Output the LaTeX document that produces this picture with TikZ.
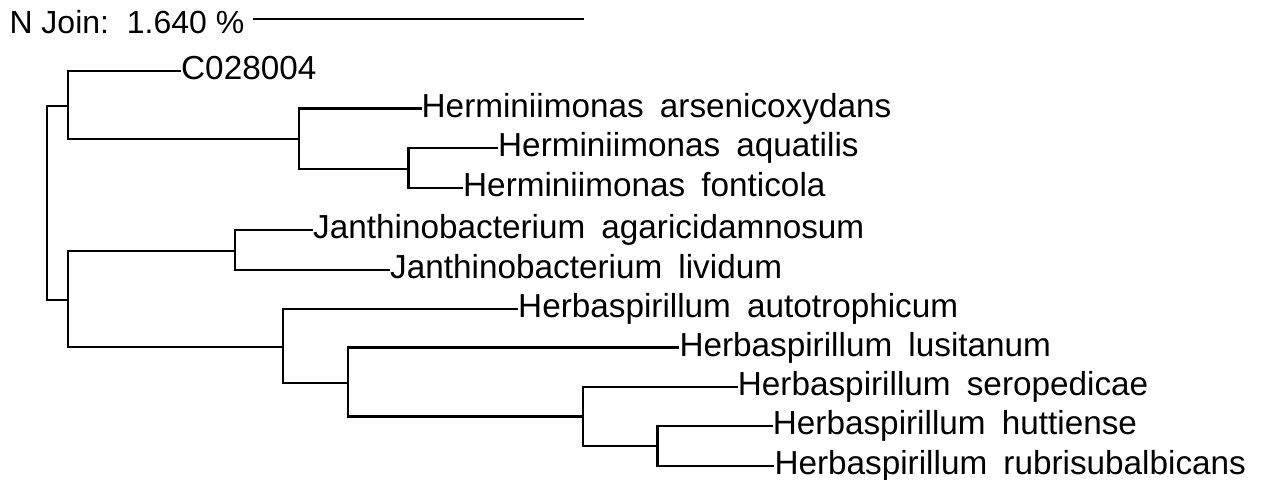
\documentclass[tikz,border=0pt]{standalone}
\usepackage{fontspec}
\setmainfont{Liberation Sans}
\newfontfamily\taxonfont{Liberation Sans}[WordSpace=1.75]
\usetikzlibrary{positioning}
\tikzset{
  branch/.style={line width=2.2pt,line cap=rect},
  % taxon names sit with their baseline a little under the branch end
  taxon/.style={anchor=base west,inner sep=0,xshift=1pt,yshift=-8.6pt,
                font=\taxonfont\fontsize{33.3}{40}\selectfont},
  scalelab/.style={anchor=base west,inner sep=0,font=\fontsize{32}{38}\selectfont},
}

\begin{document}
\begin{tikzpicture}[x=1pt,y=-1pt]
  \useasboundingbox (0,0) rectangle (1263,479);
  % scale bar
  \node[scalelab] (scaletext) at (9.3,33.3) {N Join:\ \ 1.640 \%};
  \coordinate (sL) at (254,19); \coordinate (sR) at (582.7,19);
  \draw[branch] (sL) -- (sR);
  % internal nodes of the tree
  \coordinate (root) at (46.7,203);
  \coordinate (nA) at (68,106);        \coordinate (nHerm) at (299,139);
  \coordinate (nHermAF) at (408.5,169); \coordinate (nJH) at (68.3,300);
  \coordinate (nJanth) at (235,251);   \coordinate (nHerb) at (283.3,347);
  \coordinate (nHerbL) at (348.3,383); \coordinate (nHerbS) at (582.7,416.5);
  \coordinate (nHerbHR) at (657.5,446);
  \foreach \mom/\kid in {root/nA,root/nJH,nA/nHerm,nHerm/nHermAF,nJH/nJanth,
                         nJH/nHerb,nHerb/nHerbL,nHerbL/nHerbS,nHerbS/nHerbHR}
    \draw[branch] (\mom) |- (\kid);
  % leaves
  \foreach \mom/\lf/\lx/\ly/\txt in {
      nA/lC/180/71/C028004,
      nHerm/lHars/420.5/108.5/Herminiimonas arsenicoxydans,
      nHermAF/lHaq/497/148.3/Herminiimonas aquatilis,
      nHermAF/lHfo/462/188.3/Herminiimonas fonticola,
      nJanth/lJag/312/230/Janthinobacterium agaricidamnosum,
      nJanth/lJli/389/270/Janthinobacterium lividum,
      nHerb/lHau/517/309.3/Herbaspirillum autotrophicum,
      nHerbL/lHlu/678.3/347.5/Herbaspirillum lusitanum,
      nHerbS/lHse/736.7/386.7/Herbaspirillum seropedicae,
      nHerbHR/lHhu/771.7/425.7/Herbaspirillum huttiense,
      nHerbHR/lHru/773.3/466/Herbaspirillum rubrisubalbicans}{
    \coordinate (\lf) at (\lx,\ly);
    \draw[branch] (\mom) |- (\lf);
    \node[taxon] (t\lf) at (\lf) {\txt};
  }
\end{tikzpicture}
\end{document}
